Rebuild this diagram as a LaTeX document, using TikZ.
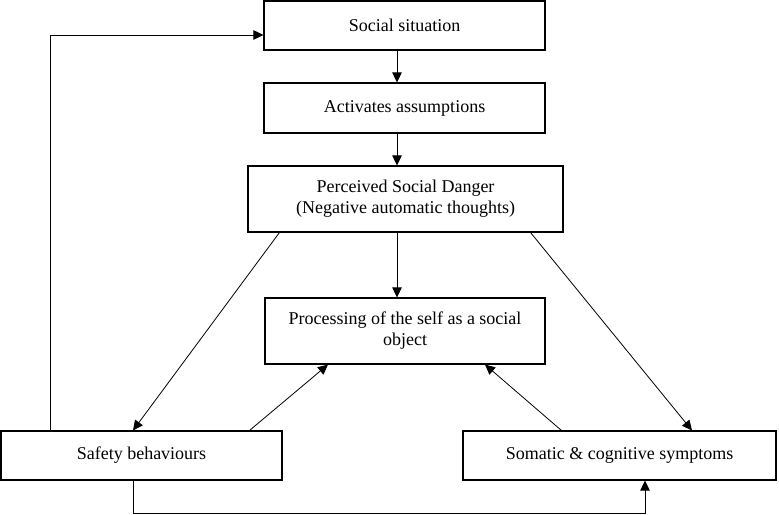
\documentclass[tikz,border=0pt]{standalone}
\usepackage{fontspec}
\setmainfont{Liberation Serif}
\usetikzlibrary{positioning, arrows.meta, shapes}

\begin{document}
\begin{tikzpicture}
            [x=1pt, y=-1pt,
             box/.style={rectangle, draw=black, line width=1.1pt, inner sep=2pt,
                         align=center, font=\fontsize{18}{21}\selectfont},
             line width=0.8pt, >={Triangle[length=10pt, width=9.5pt]}]
            \useasboundingbox (0,0) rectangle (779,514);

            \node[box, minimum width=281pt, minimum height=49pt] (social) at (404.5,25.5) {Social situation};
            \node[box, minimum width=281pt, minimum height=50pt] (assume) at (404.5,108) {Activates assumptions};
            \node[box, minimum width=315pt, minimum height=66pt] (danger) at (405.5,199)
                {Perceived Social Danger\\(Negative automatic thoughts)};
            \node[box, minimum width=280pt, minimum height=66pt] (process) at (405,331)
                {Processing of the self as a social\\object};
            \node[box, minimum width=281pt, minimum height=49pt] (safety) at (141.5,455.5) {Safety behaviours};
            \node[box, minimum width=313pt, minimum height=49pt] (somatic) at (619.5,455.5) {Somatic \& cognitive symptoms};

            \path [->] ([xshift=-7.5pt]social.south) edge ([xshift=-7.5pt]assume.north);
            \path [->] ([xshift=-7.5pt]assume.south) edge ([xshift=-8.5pt]danger.north);
            \path [->] ([xshift=-8.5pt]danger.south) edge ([xshift=-8pt]process.north);
            \path [->] ([xshift=32pt]danger.south west) edge ([xshift=-8.5pt]safety.north);
            \path [->] ([xshift=-33pt]danger.south east) edge ([xshift=72.5pt]somatic.north);
            \path [->] ([xshift=-33pt]safety.north east) edge ([xshift=-77pt]process.south);
            \path [->] ([xshift=99pt]somatic.north west) edge ([xshift=80pt]process.south);

            % loops back round the outside
            \draw [->] ([xshift=-91.5pt]safety.north) |- ([yshift=-9.5pt]social.west);
            \draw [->] ([xshift=-8.5pt]safety.south) -- ++(0,33) -| ([xshift=25.5pt]somatic.south);
        \end{tikzpicture}
\end{document}
